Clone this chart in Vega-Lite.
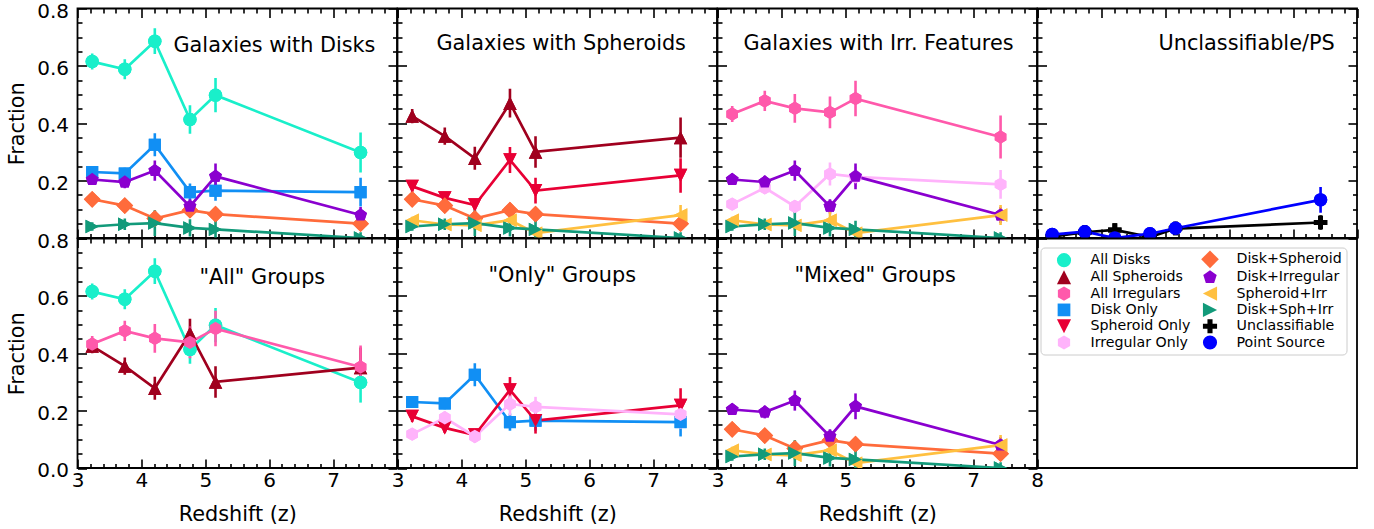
{
  "$schema": "https://vega.github.io/schema/vega-lite/v6.json",
  "padding": {"left": 5.5, "top": -0.5, "right": 5, "bottom": 5},
  "background": "white",
  "datasets": {
    "d": [
      {"s": "All Disks", "z": 3.23, "f": 0.615, "e": 0.028},
      {"s": "All Disks", "z": 3.74, "f": 0.588, "e": 0.035},
      {"s": "All Disks", "z": 4.21, "f": 0.686, "e": 0.045},
      {"s": "All Disks", "z": 4.76, "f": 0.413, "e": 0.05},
      {"s": "All Disks", "z": 5.16, "f": 0.498, "e": 0.06},
      {"s": "All Disks", "z": 7.43, "f": 0.298, "e": 0.07},
      {"s": "All Spheroids", "z": 3.23, "f": 0.425, "e": 0.025},
      {"s": "All Spheroids", "z": 3.74, "f": 0.355, "e": 0.03},
      {"s": "All Spheroids", "z": 4.21, "f": 0.278, "e": 0.04},
      {"s": "All Spheroids", "z": 4.76, "f": 0.47, "e": 0.05},
      {"s": "All Spheroids", "z": 5.16, "f": 0.3, "e": 0.055},
      {"s": "All Spheroids", "z": 7.43, "f": 0.35, "e": 0.07},
      {"s": "All Irregulars", "z": 3.23, "f": 0.432, "e": 0.028},
      {"s": "All Irregulars", "z": 3.74, "f": 0.478, "e": 0.035},
      {"s": "All Irregulars", "z": 4.21, "f": 0.452, "e": 0.05},
      {"s": "All Irregulars", "z": 4.76, "f": 0.438, "e": 0.055},
      {"s": "All Irregulars", "z": 5.16, "f": 0.486, "e": 0.062},
      {"s": "All Irregulars", "z": 7.43, "f": 0.352, "e": 0.075},
      {"s": "Disk Only", "z": 3.23, "f": 0.23, "e": 0.02},
      {"s": "Disk Only", "z": 3.74, "f": 0.225, "e": 0.02},
      {"s": "Disk Only", "z": 4.21, "f": 0.325, "e": 0.04},
      {"s": "Disk Only", "z": 4.76, "f": 0.16, "e": 0.03},
      {"s": "Disk Only", "z": 5.16, "f": 0.165, "e": 0.035},
      {"s": "Disk Only", "z": 7.43, "f": 0.16, "e": 0.05},
      {"s": "Spheroid Only", "z": 3.23, "f": 0.18, "e": 0.02},
      {"s": "Spheroid Only", "z": 3.74, "f": 0.14, "e": 0.018},
      {"s": "Spheroid Only", "z": 4.21, "f": 0.115, "e": 0.02},
      {"s": "Spheroid Only", "z": 4.76, "f": 0.272, "e": 0.045},
      {"s": "Spheroid Only", "z": 5.16, "f": 0.165, "e": 0.045},
      {"s": "Spheroid Only", "z": 7.43, "f": 0.218, "e": 0.06},
      {"s": "Irregular Only", "z": 3.23, "f": 0.118, "e": 0.015},
      {"s": "Irregular Only", "z": 3.74, "f": 0.175, "e": 0.022},
      {"s": "Irregular Only", "z": 4.21, "f": 0.11, "e": 0.02},
      {"s": "Irregular Only", "z": 4.76, "f": 0.223, "e": 0.04},
      {"s": "Irregular Only", "z": 5.16, "f": 0.213, "e": 0.035},
      {"s": "Irregular Only", "z": 7.43, "f": 0.187, "e": 0.05},
      {"s": "Disk+Spheroid", "z": 3.23, "f": 0.135, "e": 0.018},
      {"s": "Disk+Spheroid", "z": 3.74, "f": 0.113, "e": 0.017},
      {"s": "Disk+Spheroid", "z": 4.21, "f": 0.068, "e": 0.015},
      {"s": "Disk+Spheroid", "z": 4.76, "f": 0.097, "e": 0.02},
      {"s": "Disk+Spheroid", "z": 5.16, "f": 0.083, "e": 0.025},
      {"s": "Disk+Spheroid", "z": 7.43, "f": 0.05, "e": 0.022},
      {"s": "Disk+Irregular", "z": 3.23, "f": 0.204, "e": 0.018},
      {"s": "Disk+Irregular", "z": 3.74, "f": 0.195, "e": 0.022},
      {"s": "Disk+Irregular", "z": 4.21, "f": 0.235, "e": 0.035},
      {"s": "Disk+Irregular", "z": 4.76, "f": 0.11, "e": 0.025},
      {"s": "Disk+Irregular", "z": 5.16, "f": 0.215, "e": 0.045},
      {"s": "Disk+Irregular", "z": 7.43, "f": 0.08, "e": 0.028},
      {"s": "Spheroid+Irr", "z": 3.23, "f": 0.062, "e": 0.012},
      {"s": "Spheroid+Irr", "z": 3.74, "f": 0.047, "e": 0.015},
      {"s": "Spheroid+Irr", "z": 4.21, "f": 0.044, "e": 0.015},
      {"s": "Spheroid+Irr", "z": 4.76, "f": 0.062, "e": 0.03},
      {"s": "Spheroid+Irr", "z": 5.16, "f": 0.017, "e": 0.015},
      {"s": "Spheroid+Irr", "z": 7.43, "f": 0.08, "e": 0.035},
      {"s": "Disk+Sph+Irr", "z": 3.23, "f": 0.04, "e": 0.015},
      {"s": "Disk+Sph+Irr", "z": 3.74, "f": 0.048, "e": 0.02},
      {"s": "Disk+Sph+Irr", "z": 4.21, "f": 0.052, "e": 0.045},
      {"s": "Disk+Sph+Irr", "z": 4.76, "f": 0.035, "e": 0.03},
      {"s": "Disk+Sph+Irr", "z": 5.16, "f": 0.03, "e": 0.03},
      {"s": "Disk+Sph+Irr", "z": 7.43, "f": 0.0, "e": 0.02},
      {"s": "Unclassifiable", "z": 3.23, "f": 0.005, "e": 0.005},
      {"s": "Unclassifiable", "z": 3.74, "f": 0.02, "e": 0.008},
      {"s": "Unclassifiable", "z": 4.21, "f": 0.028, "e": 0.012},
      {"s": "Unclassifiable", "z": 4.76, "f": 0.003, "e": 0.006},
      {"s": "Unclassifiable", "z": 5.16, "f": 0.033, "e": 0.012},
      {"s": "Unclassifiable", "z": 7.43, "f": 0.054, "e": 0.025},
      {"s": "Point Source", "z": 3.23, "f": 0.012, "e": 0.006},
      {"s": "Point Source", "z": 3.74, "f": 0.022, "e": 0.01},
      {"s": "Point Source", "z": 4.21, "f": 0.0, "e": 0.005},
      {"s": "Point Source", "z": 4.76, "f": 0.015, "e": 0.008},
      {"s": "Point Source", "z": 5.16, "f": 0.034, "e": 0.012},
      {"s": "Point Source", "z": 7.43, "f": 0.133, "e": 0.045}
    ]
  },
  "concat": [
    {
      "width": 319.5, "height": 229.5,
      "title": {"text": "Galaxies with Disks", "dx": 96, "offset": -56},
      "data": {"name": "d"},
      "transform": [{"filter": {"field": "s", "oneOf": ["All Disks", "Disk Only", "Disk+Irregular", "Disk+Spheroid", "Disk+Sph+Irr"]}}],
      "resolve": {"axis": {"x": "independent", "y": "independent"}},
      "layer": [
        {"mark": {"type": "point", "filled": true, "opacity": 1, "size": 180, "clip": true},
         "encoding": {
           "x": {"field": "z", "type": "quantitative", "scale": {"domain": [3, 8], "nice": false, "zero": false}, "axis": {"orient": "bottom", "values": [3.2,3.4,3.6,3.8,4.2,4.4,4.6,4.8,5.2,5.4,5.6,5.8,6.2,6.4,6.6,6.8,7.2,7.4,7.6,7.8], "tickSize": -4.5, "labels": false, "title": null}},
           "y": {"field": "f", "type": "quantitative", "scale": {"domain": [0, 0.8], "nice": false, "zero": false}, "axis": {"orient": "left", "values": [0.05,0.1,0.15,0.25,0.3,0.35,0.45,0.5,0.55,0.65,0.7,0.75], "tickSize": -4.5, "labels": false, "title": null}},
           "color": {"field": "s", "type": "nominal", "title": null, "scale": {"domain": ["All Disks","All Spheroids","All Irregulars","Disk Only","Spheroid Only","Irregular Only","Disk+Spheroid","Disk+Irregular","Spheroid+Irr","Disk+Sph+Irr","Unclassifiable","Point Source"], "range": ["#19efca","#a0001e","#ff59ab","#118ff4","#e80035","#ffb3fb","#ff6b3b","#8a00cf","#ffc040","#129a7a","#000000","#0000ff"]}},
           "shape": {"field": "s", "type": "nominal", "title": null, "scale": {"domain": ["All Disks","All Spheroids","All Irregulars","Disk Only","Spheroid Only","Irregular Only","Disk+Spheroid","Disk+Irregular","Spheroid+Irr","Disk+Sph+Irr","Unclassifiable","Point Source"], "range": ["circle","M0,-1L1,1L-1,1Z","M0,-1L0.866,-0.5L0.866,0.5L0,1L-0.866,0.5L-0.866,-0.5Z","M-0.9,-0.9L0.9,-0.9L0.9,0.9L-0.9,0.9Z","M0,1L-1,-1L1,-1Z","M0,-1L0.866,-0.5L0.866,0.5L0,1L-0.866,0.5L-0.866,-0.5Z","M0,-1.25L1.25,0L0,1.25L-1.25,0Z","M0,-1L0.951,-0.309L0.588,0.809L-0.588,0.809L-0.951,-0.309Z","M-1,0L1,-1L1,1Z","M1,0L-1,-1L-1,1Z","M-0.36,-1L0.36,-1L0.36,-0.36L1,-0.36L1,0.36L0.36,0.36L0.36,1L-0.36,1L-0.36,0.36L-1,0.36L-1,-0.36L-0.36,-0.36Z","circle"]}}
         }},
        {"mark": {"type": "errorbar", "thickness": 2.6, "clip": true},
         "encoding": {
           "x": {"field": "z", "type": "quantitative", "scale": {"domain": [3, 8], "nice": false, "zero": false}, "axis": null},
           "y": {"field": "f", "type": "quantitative", "scale": {"domain": [0, 0.8], "nice": false, "zero": false}, "axis": null},
           "yError": {"field": "e"},
           "color": {"field": "s", "type": "nominal", "title": null, "scale": {"domain": ["All Disks","All Spheroids","All Irregulars","Disk Only","Spheroid Only","Irregular Only","Disk+Spheroid","Disk+Irregular","Spheroid+Irr","Disk+Sph+Irr","Unclassifiable","Point Source"], "range": ["#19efca","#a0001e","#ff59ab","#118ff4","#e80035","#ffb3fb","#ff6b3b","#8a00cf","#ffc040","#129a7a","#000000","#0000ff"]}}
         }},
        {"mark": {"type": "line", "strokeWidth": 2.7, "clip": true},
         "encoding": {
           "x": {"field": "z", "type": "quantitative", "scale": {"domain": [3, 8], "nice": false, "zero": false}, "axis": {"orient": "bottom", "values": [3,4,5,6,7,8], "tickSize": -9, "labels": false, "title": null}},
           "y": {"field": "f", "type": "quantitative", "scale": {"domain": [0, 0.8], "nice": false, "zero": false}, "axis": {"orient": "left", "values": [0,0.2,0.4,0.6,0.8], "tickSize": -9, "format": ".1f", "labelExpr": "datum.value == 0 ? '' : datum.label", "title": "Fraction"}},
           "color": {"field": "s", "type": "nominal", "title": null, "scale": {"domain": ["All Disks","All Spheroids","All Irregulars","Disk Only","Spheroid Only","Irregular Only","Disk+Spheroid","Disk+Irregular","Spheroid+Irr","Disk+Sph+Irr","Unclassifiable","Point Source"], "range": ["#19efca","#a0001e","#ff59ab","#118ff4","#e80035","#ffb3fb","#ff6b3b","#8a00cf","#ffc040","#129a7a","#000000","#0000ff"]}}
         }},
        {"mark": {"type": "point", "filled": true, "opacity": 1, "size": 180, "clip": true},
         "encoding": {
           "x": {"field": "z", "type": "quantitative", "scale": {"domain": [3, 8], "nice": false, "zero": false}, "axis": null},
           "y": {"field": "f", "type": "quantitative", "scale": {"domain": [0, 0.8], "nice": false, "zero": false}, "axis": null},
           "color": {"field": "s", "type": "nominal", "title": null, "scale": {"domain": ["All Disks","All Spheroids","All Irregulars","Disk Only","Spheroid Only","Irregular Only","Disk+Spheroid","Disk+Irregular","Spheroid+Irr","Disk+Sph+Irr","Unclassifiable","Point Source"], "range": ["#19efca","#a0001e","#ff59ab","#118ff4","#e80035","#ffb3fb","#ff6b3b","#8a00cf","#ffc040","#129a7a","#000000","#0000ff"]}},
           "shape": {"field": "s", "type": "nominal", "title": null, "scale": {"domain": ["All Disks","All Spheroids","All Irregulars","Disk Only","Spheroid Only","Irregular Only","Disk+Spheroid","Disk+Irregular","Spheroid+Irr","Disk+Sph+Irr","Unclassifiable","Point Source"], "range": ["circle","M0,-1L1,1L-1,1Z","M0,-1L0.866,-0.5L0.866,0.5L0,1L-0.866,0.5L-0.866,-0.5Z","M-0.9,-0.9L0.9,-0.9L0.9,0.9L-0.9,0.9Z","M0,1L-1,-1L1,-1Z","M0,-1L0.866,-0.5L0.866,0.5L0,1L-0.866,0.5L-0.866,-0.5Z","M0,-1.25L1.25,0L0,1.25L-1.25,0Z","M0,-1L0.951,-0.309L0.588,0.809L-0.588,0.809L-0.951,-0.309Z","M-1,0L1,-1L1,1Z","M1,0L-1,-1L-1,1Z","M-0.36,-1L0.36,-1L0.36,-0.36L1,-0.36L1,0.36L0.36,0.36L0.36,1L-0.36,1L-0.36,0.36L-1,0.36L-1,-0.36L-0.36,-0.36Z","circle"]}}
         }},
        {"mark": {"type": "point", "opacity": 0},
         "encoding": {
           "x": {"field": "z", "type": "quantitative", "scale": {"domain": [3, 8], "nice": false, "zero": false}, "axis": {"orient": "top", "values": [3,4,5,6,7,8], "tickSize": -9, "labels": false, "title": null}},
           "y": {"field": "f", "type": "quantitative", "scale": {"domain": [0, 0.8], "nice": false, "zero": false}, "axis": {"orient": "right", "values": [0,0.2,0.4,0.6,0.8], "tickSize": -9, "labels": false, "title": null}}
         }},
        {"mark": {"type": "point", "opacity": 0},
         "encoding": {
           "x": {"field": "z", "type": "quantitative", "scale": {"domain": [3, 8], "nice": false, "zero": false}, "axis": {"orient": "top", "values": [3.2,3.4,3.6,3.8,4.2,4.4,4.6,4.8,5.2,5.4,5.6,5.8,6.2,6.4,6.6,6.8,7.2,7.4,7.6,7.8], "tickSize": -4.5, "labels": false, "title": null}},
           "y": {"field": "f", "type": "quantitative", "scale": {"domain": [0, 0.8], "nice": false, "zero": false}, "axis": {"orient": "right", "values": [0.05,0.1,0.15,0.25,0.3,0.35,0.45,0.5,0.55,0.65,0.7,0.75], "tickSize": -4.5, "labels": false, "title": null}}
         }}
      ]
    },
    {
      "width": 319.5, "height": 229.5,
      "title": {"text": "Galaxies with Spheroids", "dx": 39, "offset": -47},
      "data": {"name": "d"},
      "transform": [{"filter": {"field": "s", "oneOf": ["All Spheroids", "Spheroid Only", "Disk+Spheroid", "Spheroid+Irr", "Disk+Sph+Irr"]}}],
      "resolve": {"axis": {"x": "independent", "y": "independent"}},
      "layer": [
        {"mark": {"type": "point", "filled": true, "opacity": 1, "size": 180, "clip": true},
         "encoding": {
           "x": {"field": "z", "type": "quantitative", "scale": {"domain": [3, 8], "nice": false, "zero": false}, "axis": {"orient": "bottom", "values": [3.2,3.4,3.6,3.8,4.2,4.4,4.6,4.8,5.2,5.4,5.6,5.8,6.2,6.4,6.6,6.8,7.2,7.4,7.6,7.8], "tickSize": -4.5, "labels": false, "title": null}},
           "y": {"field": "f", "type": "quantitative", "scale": {"domain": [0, 0.8], "nice": false, "zero": false}, "axis": {"orient": "left", "values": [0.05,0.1,0.15,0.25,0.3,0.35,0.45,0.5,0.55,0.65,0.7,0.75], "tickSize": -4.5, "labels": false, "title": null}},
           "color": {"field": "s", "type": "nominal", "title": null, "scale": {"domain": ["All Disks","All Spheroids","All Irregulars","Disk Only","Spheroid Only","Irregular Only","Disk+Spheroid","Disk+Irregular","Spheroid+Irr","Disk+Sph+Irr","Unclassifiable","Point Source"], "range": ["#19efca","#a0001e","#ff59ab","#118ff4","#e80035","#ffb3fb","#ff6b3b","#8a00cf","#ffc040","#129a7a","#000000","#0000ff"]}},
           "shape": {"field": "s", "type": "nominal", "title": null, "scale": {"domain": ["All Disks","All Spheroids","All Irregulars","Disk Only","Spheroid Only","Irregular Only","Disk+Spheroid","Disk+Irregular","Spheroid+Irr","Disk+Sph+Irr","Unclassifiable","Point Source"], "range": ["circle","M0,-1L1,1L-1,1Z","M0,-1L0.866,-0.5L0.866,0.5L0,1L-0.866,0.5L-0.866,-0.5Z","M-0.9,-0.9L0.9,-0.9L0.9,0.9L-0.9,0.9Z","M0,1L-1,-1L1,-1Z","M0,-1L0.866,-0.5L0.866,0.5L0,1L-0.866,0.5L-0.866,-0.5Z","M0,-1.25L1.25,0L0,1.25L-1.25,0Z","M0,-1L0.951,-0.309L0.588,0.809L-0.588,0.809L-0.951,-0.309Z","M-1,0L1,-1L1,1Z","M1,0L-1,-1L-1,1Z","M-0.36,-1L0.36,-1L0.36,-0.36L1,-0.36L1,0.36L0.36,0.36L0.36,1L-0.36,1L-0.36,0.36L-1,0.36L-1,-0.36L-0.36,-0.36Z","circle"]}}
         }},
        {"mark": {"type": "errorbar", "thickness": 2.6, "clip": true},
         "encoding": {
           "x": {"field": "z", "type": "quantitative", "scale": {"domain": [3, 8], "nice": false, "zero": false}, "axis": null},
           "y": {"field": "f", "type": "quantitative", "scale": {"domain": [0, 0.8], "nice": false, "zero": false}, "axis": null},
           "yError": {"field": "e"},
           "color": {"field": "s", "type": "nominal", "title": null, "scale": {"domain": ["All Disks","All Spheroids","All Irregulars","Disk Only","Spheroid Only","Irregular Only","Disk+Spheroid","Disk+Irregular","Spheroid+Irr","Disk+Sph+Irr","Unclassifiable","Point Source"], "range": ["#19efca","#a0001e","#ff59ab","#118ff4","#e80035","#ffb3fb","#ff6b3b","#8a00cf","#ffc040","#129a7a","#000000","#0000ff"]}}
         }},
        {"mark": {"type": "line", "strokeWidth": 2.7, "clip": true},
         "encoding": {
           "x": {"field": "z", "type": "quantitative", "scale": {"domain": [3, 8], "nice": false, "zero": false}, "axis": {"orient": "bottom", "values": [3,4,5,6,7,8], "tickSize": -9, "labels": false, "title": null}},
           "y": {"field": "f", "type": "quantitative", "scale": {"domain": [0, 0.8], "nice": false, "zero": false}, "axis": {"orient": "left", "values": [0,0.2,0.4,0.6,0.8], "tickSize": -9, "labels": false, "title": null}},
           "color": {"field": "s", "type": "nominal", "title": null, "scale": {"domain": ["All Disks","All Spheroids","All Irregulars","Disk Only","Spheroid Only","Irregular Only","Disk+Spheroid","Disk+Irregular","Spheroid+Irr","Disk+Sph+Irr","Unclassifiable","Point Source"], "range": ["#19efca","#a0001e","#ff59ab","#118ff4","#e80035","#ffb3fb","#ff6b3b","#8a00cf","#ffc040","#129a7a","#000000","#0000ff"]}}
         }},
        {"mark": {"type": "point", "filled": true, "opacity": 1, "size": 180, "clip": true},
         "encoding": {
           "x": {"field": "z", "type": "quantitative", "scale": {"domain": [3, 8], "nice": false, "zero": false}, "axis": null},
           "y": {"field": "f", "type": "quantitative", "scale": {"domain": [0, 0.8], "nice": false, "zero": false}, "axis": null},
           "color": {"field": "s", "type": "nominal", "title": null, "scale": {"domain": ["All Disks","All Spheroids","All Irregulars","Disk Only","Spheroid Only","Irregular Only","Disk+Spheroid","Disk+Irregular","Spheroid+Irr","Disk+Sph+Irr","Unclassifiable","Point Source"], "range": ["#19efca","#a0001e","#ff59ab","#118ff4","#e80035","#ffb3fb","#ff6b3b","#8a00cf","#ffc040","#129a7a","#000000","#0000ff"]}},
           "shape": {"field": "s", "type": "nominal", "title": null, "scale": {"domain": ["All Disks","All Spheroids","All Irregulars","Disk Only","Spheroid Only","Irregular Only","Disk+Spheroid","Disk+Irregular","Spheroid+Irr","Disk+Sph+Irr","Unclassifiable","Point Source"], "range": ["circle","M0,-1L1,1L-1,1Z","M0,-1L0.866,-0.5L0.866,0.5L0,1L-0.866,0.5L-0.866,-0.5Z","M-0.9,-0.9L0.9,-0.9L0.9,0.9L-0.9,0.9Z","M0,1L-1,-1L1,-1Z","M0,-1L0.866,-0.5L0.866,0.5L0,1L-0.866,0.5L-0.866,-0.5Z","M0,-1.25L1.25,0L0,1.25L-1.25,0Z","M0,-1L0.951,-0.309L0.588,0.809L-0.588,0.809L-0.951,-0.309Z","M-1,0L1,-1L1,1Z","M1,0L-1,-1L-1,1Z","M-0.36,-1L0.36,-1L0.36,-0.36L1,-0.36L1,0.36L0.36,0.36L0.36,1L-0.36,1L-0.36,0.36L-1,0.36L-1,-0.36L-0.36,-0.36Z","circle"]}}
         }},
        {"mark": {"type": "point", "opacity": 0},
         "encoding": {
           "x": {"field": "z", "type": "quantitative", "scale": {"domain": [3, 8], "nice": false, "zero": false}, "axis": {"orient": "top", "values": [3,4,5,6,7,8], "tickSize": -9, "labels": false, "title": null}},
           "y": {"field": "f", "type": "quantitative", "scale": {"domain": [0, 0.8], "nice": false, "zero": false}, "axis": {"orient": "right", "values": [0,0.2,0.4,0.6,0.8], "tickSize": -9, "labels": false, "title": null}}
         }},
        {"mark": {"type": "point", "opacity": 0},
         "encoding": {
           "x": {"field": "z", "type": "quantitative", "scale": {"domain": [3, 8], "nice": false, "zero": false}, "axis": {"orient": "top", "values": [3.2,3.4,3.6,3.8,4.2,4.4,4.6,4.8,5.2,5.4,5.6,5.8,6.2,6.4,6.6,6.8,7.2,7.4,7.6,7.8], "tickSize": -4.5, "labels": false, "title": null}},
           "y": {"field": "f", "type": "quantitative", "scale": {"domain": [0, 0.8], "nice": false, "zero": false}, "axis": {"orient": "right", "values": [0.05,0.1,0.15,0.25,0.3,0.35,0.45,0.5,0.55,0.65,0.7,0.75], "tickSize": -4.5, "labels": false, "title": null}}
         }}
      ]
    },
    {
      "width": 319.5, "height": 229.5,
      "title": {"text": "Galaxies with Irr. Features", "dx": 26, "offset": -47},
      "data": {"name": "d"},
      "transform": [{"filter": {"field": "s", "oneOf": ["All Irregulars", "Irregular Only", "Disk+Irregular", "Spheroid+Irr", "Disk+Sph+Irr"]}}],
      "resolve": {"axis": {"x": "independent", "y": "independent"}},
      "layer": [
        {"mark": {"type": "point", "filled": true, "opacity": 1, "size": 180, "clip": true},
         "encoding": {
           "x": {"field": "z", "type": "quantitative", "scale": {"domain": [3, 8], "nice": false, "zero": false}, "axis": {"orient": "bottom", "values": [3.2,3.4,3.6,3.8,4.2,4.4,4.6,4.8,5.2,5.4,5.6,5.8,6.2,6.4,6.6,6.8,7.2,7.4,7.6,7.8], "tickSize": -4.5, "labels": false, "title": null}},
           "y": {"field": "f", "type": "quantitative", "scale": {"domain": [0, 0.8], "nice": false, "zero": false}, "axis": {"orient": "left", "values": [0.05,0.1,0.15,0.25,0.3,0.35,0.45,0.5,0.55,0.65,0.7,0.75], "tickSize": -4.5, "labels": false, "title": null}},
           "color": {"field": "s", "type": "nominal", "title": null, "scale": {"domain": ["All Disks","All Spheroids","All Irregulars","Disk Only","Spheroid Only","Irregular Only","Disk+Spheroid","Disk+Irregular","Spheroid+Irr","Disk+Sph+Irr","Unclassifiable","Point Source"], "range": ["#19efca","#a0001e","#ff59ab","#118ff4","#e80035","#ffb3fb","#ff6b3b","#8a00cf","#ffc040","#129a7a","#000000","#0000ff"]}},
           "shape": {"field": "s", "type": "nominal", "title": null, "scale": {"domain": ["All Disks","All Spheroids","All Irregulars","Disk Only","Spheroid Only","Irregular Only","Disk+Spheroid","Disk+Irregular","Spheroid+Irr","Disk+Sph+Irr","Unclassifiable","Point Source"], "range": ["circle","M0,-1L1,1L-1,1Z","M0,-1L0.866,-0.5L0.866,0.5L0,1L-0.866,0.5L-0.866,-0.5Z","M-0.9,-0.9L0.9,-0.9L0.9,0.9L-0.9,0.9Z","M0,1L-1,-1L1,-1Z","M0,-1L0.866,-0.5L0.866,0.5L0,1L-0.866,0.5L-0.866,-0.5Z","M0,-1.25L1.25,0L0,1.25L-1.25,0Z","M0,-1L0.951,-0.309L0.588,0.809L-0.588,0.809L-0.951,-0.309Z","M-1,0L1,-1L1,1Z","M1,0L-1,-1L-1,1Z","M-0.36,-1L0.36,-1L0.36,-0.36L1,-0.36L1,0.36L0.36,0.36L0.36,1L-0.36,1L-0.36,0.36L-1,0.36L-1,-0.36L-0.36,-0.36Z","circle"]}}
         }},
        {"mark": {"type": "errorbar", "thickness": 2.6, "clip": true},
         "encoding": {
           "x": {"field": "z", "type": "quantitative", "scale": {"domain": [3, 8], "nice": false, "zero": false}, "axis": null},
           "y": {"field": "f", "type": "quantitative", "scale": {"domain": [0, 0.8], "nice": false, "zero": false}, "axis": null},
           "yError": {"field": "e"},
           "color": {"field": "s", "type": "nominal", "title": null, "scale": {"domain": ["All Disks","All Spheroids","All Irregulars","Disk Only","Spheroid Only","Irregular Only","Disk+Spheroid","Disk+Irregular","Spheroid+Irr","Disk+Sph+Irr","Unclassifiable","Point Source"], "range": ["#19efca","#a0001e","#ff59ab","#118ff4","#e80035","#ffb3fb","#ff6b3b","#8a00cf","#ffc040","#129a7a","#000000","#0000ff"]}}
         }},
        {"mark": {"type": "line", "strokeWidth": 2.7, "clip": true},
         "encoding": {
           "x": {"field": "z", "type": "quantitative", "scale": {"domain": [3, 8], "nice": false, "zero": false}, "axis": {"orient": "bottom", "values": [3,4,5,6,7,8], "tickSize": -9, "labels": false, "title": null}},
           "y": {"field": "f", "type": "quantitative", "scale": {"domain": [0, 0.8], "nice": false, "zero": false}, "axis": {"orient": "left", "values": [0,0.2,0.4,0.6,0.8], "tickSize": -9, "labels": false, "title": null}},
           "color": {"field": "s", "type": "nominal", "title": null, "scale": {"domain": ["All Disks","All Spheroids","All Irregulars","Disk Only","Spheroid Only","Irregular Only","Disk+Spheroid","Disk+Irregular","Spheroid+Irr","Disk+Sph+Irr","Unclassifiable","Point Source"], "range": ["#19efca","#a0001e","#ff59ab","#118ff4","#e80035","#ffb3fb","#ff6b3b","#8a00cf","#ffc040","#129a7a","#000000","#0000ff"]}}
         }},
        {"mark": {"type": "point", "filled": true, "opacity": 1, "size": 180, "clip": true},
         "encoding": {
           "x": {"field": "z", "type": "quantitative", "scale": {"domain": [3, 8], "nice": false, "zero": false}, "axis": null},
           "y": {"field": "f", "type": "quantitative", "scale": {"domain": [0, 0.8], "nice": false, "zero": false}, "axis": null},
           "color": {"field": "s", "type": "nominal", "title": null, "scale": {"domain": ["All Disks","All Spheroids","All Irregulars","Disk Only","Spheroid Only","Irregular Only","Disk+Spheroid","Disk+Irregular","Spheroid+Irr","Disk+Sph+Irr","Unclassifiable","Point Source"], "range": ["#19efca","#a0001e","#ff59ab","#118ff4","#e80035","#ffb3fb","#ff6b3b","#8a00cf","#ffc040","#129a7a","#000000","#0000ff"]}},
           "shape": {"field": "s", "type": "nominal", "title": null, "scale": {"domain": ["All Disks","All Spheroids","All Irregulars","Disk Only","Spheroid Only","Irregular Only","Disk+Spheroid","Disk+Irregular","Spheroid+Irr","Disk+Sph+Irr","Unclassifiable","Point Source"], "range": ["circle","M0,-1L1,1L-1,1Z","M0,-1L0.866,-0.5L0.866,0.5L0,1L-0.866,0.5L-0.866,-0.5Z","M-0.9,-0.9L0.9,-0.9L0.9,0.9L-0.9,0.9Z","M0,1L-1,-1L1,-1Z","M0,-1L0.866,-0.5L0.866,0.5L0,1L-0.866,0.5L-0.866,-0.5Z","M0,-1.25L1.25,0L0,1.25L-1.25,0Z","M0,-1L0.951,-0.309L0.588,0.809L-0.588,0.809L-0.951,-0.309Z","M-1,0L1,-1L1,1Z","M1,0L-1,-1L-1,1Z","M-0.36,-1L0.36,-1L0.36,-0.36L1,-0.36L1,0.36L0.36,0.36L0.36,1L-0.36,1L-0.36,0.36L-1,0.36L-1,-0.36L-0.36,-0.36Z","circle"]}}
         }},
        {"mark": {"type": "point", "opacity": 0},
         "encoding": {
           "x": {"field": "z", "type": "quantitative", "scale": {"domain": [3, 8], "nice": false, "zero": false}, "axis": {"orient": "top", "values": [3,4,5,6,7,8], "tickSize": -9, "labels": false, "title": null}},
           "y": {"field": "f", "type": "quantitative", "scale": {"domain": [0, 0.8], "nice": false, "zero": false}, "axis": {"orient": "right", "values": [0,0.2,0.4,0.6,0.8], "tickSize": -9, "labels": false, "title": null}}
         }},
        {"mark": {"type": "point", "opacity": 0},
         "encoding": {
           "x": {"field": "z", "type": "quantitative", "scale": {"domain": [3, 8], "nice": false, "zero": false}, "axis": {"orient": "top", "values": [3.2,3.4,3.6,3.8,4.2,4.4,4.6,4.8,5.2,5.4,5.6,5.8,6.2,6.4,6.6,6.8,7.2,7.4,7.6,7.8], "tickSize": -4.5, "labels": false, "title": null}},
           "y": {"field": "f", "type": "quantitative", "scale": {"domain": [0, 0.8], "nice": false, "zero": false}, "axis": {"orient": "right", "values": [0.05,0.1,0.15,0.25,0.3,0.35,0.45,0.5,0.55,0.65,0.7,0.75], "tickSize": -4.5, "labels": false, "title": null}}
         }}
      ]
    },
    {
      "width": 319.5, "height": 229.5,
      "title": {"text": "Unclassifiable/PS", "dx": 121, "offset": -47},
      "data": {"name": "d"},
      "transform": [{"filter": {"field": "s", "oneOf": ["Unclassifiable", "Point Source"]}}],
      "resolve": {"axis": {"x": "independent", "y": "independent"}},
      "layer": [
        {"mark": {"type": "point", "filled": true, "opacity": 1, "size": 180, "clip": true},
         "encoding": {
           "x": {"field": "z", "type": "quantitative", "scale": {"domain": [3, 8], "nice": false, "zero": false}, "axis": {"orient": "bottom", "values": [3.2,3.4,3.6,3.8,4.2,4.4,4.6,4.8,5.2,5.4,5.6,5.8,6.2,6.4,6.6,6.8,7.2,7.4,7.6,7.8], "tickSize": -4.5, "labels": false, "title": null}},
           "y": {"field": "f", "type": "quantitative", "scale": {"domain": [0, 0.8], "nice": false, "zero": false}, "axis": {"orient": "left", "values": [0.05,0.1,0.15,0.25,0.3,0.35,0.45,0.5,0.55,0.65,0.7,0.75], "tickSize": -4.5, "labels": false, "title": null}},
           "color": {"field": "s", "type": "nominal", "title": null, "scale": {"domain": ["All Disks","All Spheroids","All Irregulars","Disk Only","Spheroid Only","Irregular Only","Disk+Spheroid","Disk+Irregular","Spheroid+Irr","Disk+Sph+Irr","Unclassifiable","Point Source"], "range": ["#19efca","#a0001e","#ff59ab","#118ff4","#e80035","#ffb3fb","#ff6b3b","#8a00cf","#ffc040","#129a7a","#000000","#0000ff"]}},
           "shape": {"field": "s", "type": "nominal", "title": null, "scale": {"domain": ["All Disks","All Spheroids","All Irregulars","Disk Only","Spheroid Only","Irregular Only","Disk+Spheroid","Disk+Irregular","Spheroid+Irr","Disk+Sph+Irr","Unclassifiable","Point Source"], "range": ["circle","M0,-1L1,1L-1,1Z","M0,-1L0.866,-0.5L0.866,0.5L0,1L-0.866,0.5L-0.866,-0.5Z","M-0.9,-0.9L0.9,-0.9L0.9,0.9L-0.9,0.9Z","M0,1L-1,-1L1,-1Z","M0,-1L0.866,-0.5L0.866,0.5L0,1L-0.866,0.5L-0.866,-0.5Z","M0,-1.25L1.25,0L0,1.25L-1.25,0Z","M0,-1L0.951,-0.309L0.588,0.809L-0.588,0.809L-0.951,-0.309Z","M-1,0L1,-1L1,1Z","M1,0L-1,-1L-1,1Z","M-0.36,-1L0.36,-1L0.36,-0.36L1,-0.36L1,0.36L0.36,0.36L0.36,1L-0.36,1L-0.36,0.36L-1,0.36L-1,-0.36L-0.36,-0.36Z","circle"]}}
         }},
        {"mark": {"type": "errorbar", "thickness": 2.6, "clip": true},
         "encoding": {
           "x": {"field": "z", "type": "quantitative", "scale": {"domain": [3, 8], "nice": false, "zero": false}, "axis": null},
           "y": {"field": "f", "type": "quantitative", "scale": {"domain": [0, 0.8], "nice": false, "zero": false}, "axis": null},
           "yError": {"field": "e"},
           "color": {"field": "s", "type": "nominal", "title": null, "scale": {"domain": ["All Disks","All Spheroids","All Irregulars","Disk Only","Spheroid Only","Irregular Only","Disk+Spheroid","Disk+Irregular","Spheroid+Irr","Disk+Sph+Irr","Unclassifiable","Point Source"], "range": ["#19efca","#a0001e","#ff59ab","#118ff4","#e80035","#ffb3fb","#ff6b3b","#8a00cf","#ffc040","#129a7a","#000000","#0000ff"]}}
         }},
        {"mark": {"type": "line", "strokeWidth": 2.7, "clip": true},
         "encoding": {
           "x": {"field": "z", "type": "quantitative", "scale": {"domain": [3, 8], "nice": false, "zero": false}, "axis": {"orient": "bottom", "values": [3,4,5,6,7,8], "tickSize": -9, "labels": false, "title": null}},
           "y": {"field": "f", "type": "quantitative", "scale": {"domain": [0, 0.8], "nice": false, "zero": false}, "axis": {"orient": "left", "values": [0,0.2,0.4,0.6,0.8], "tickSize": -9, "labels": false, "title": null}},
           "color": {"field": "s", "type": "nominal", "title": null, "scale": {"domain": ["All Disks","All Spheroids","All Irregulars","Disk Only","Spheroid Only","Irregular Only","Disk+Spheroid","Disk+Irregular","Spheroid+Irr","Disk+Sph+Irr","Unclassifiable","Point Source"], "range": ["#19efca","#a0001e","#ff59ab","#118ff4","#e80035","#ffb3fb","#ff6b3b","#8a00cf","#ffc040","#129a7a","#000000","#0000ff"]}}
         }},
        {"mark": {"type": "point", "filled": true, "opacity": 1, "size": 180, "clip": true},
         "encoding": {
           "x": {"field": "z", "type": "quantitative", "scale": {"domain": [3, 8], "nice": false, "zero": false}, "axis": null},
           "y": {"field": "f", "type": "quantitative", "scale": {"domain": [0, 0.8], "nice": false, "zero": false}, "axis": null},
           "color": {"field": "s", "type": "nominal", "title": null, "scale": {"domain": ["All Disks","All Spheroids","All Irregulars","Disk Only","Spheroid Only","Irregular Only","Disk+Spheroid","Disk+Irregular","Spheroid+Irr","Disk+Sph+Irr","Unclassifiable","Point Source"], "range": ["#19efca","#a0001e","#ff59ab","#118ff4","#e80035","#ffb3fb","#ff6b3b","#8a00cf","#ffc040","#129a7a","#000000","#0000ff"]}},
           "shape": {"field": "s", "type": "nominal", "title": null, "scale": {"domain": ["All Disks","All Spheroids","All Irregulars","Disk Only","Spheroid Only","Irregular Only","Disk+Spheroid","Disk+Irregular","Spheroid+Irr","Disk+Sph+Irr","Unclassifiable","Point Source"], "range": ["circle","M0,-1L1,1L-1,1Z","M0,-1L0.866,-0.5L0.866,0.5L0,1L-0.866,0.5L-0.866,-0.5Z","M-0.9,-0.9L0.9,-0.9L0.9,0.9L-0.9,0.9Z","M0,1L-1,-1L1,-1Z","M0,-1L0.866,-0.5L0.866,0.5L0,1L-0.866,0.5L-0.866,-0.5Z","M0,-1.25L1.25,0L0,1.25L-1.25,0Z","M0,-1L0.951,-0.309L0.588,0.809L-0.588,0.809L-0.951,-0.309Z","M-1,0L1,-1L1,1Z","M1,0L-1,-1L-1,1Z","M-0.36,-1L0.36,-1L0.36,-0.36L1,-0.36L1,0.36L0.36,0.36L0.36,1L-0.36,1L-0.36,0.36L-1,0.36L-1,-0.36L-0.36,-0.36Z","circle"]}}
         }},
        {"mark": {"type": "point", "opacity": 0},
         "encoding": {
           "x": {"field": "z", "type": "quantitative", "scale": {"domain": [3, 8], "nice": false, "zero": false}, "axis": {"orient": "top", "values": [3,4,5,6,7,8], "tickSize": -9, "labels": false, "title": null}},
           "y": {"field": "f", "type": "quantitative", "scale": {"domain": [0, 0.8], "nice": false, "zero": false}, "axis": {"orient": "right", "values": [0,0.2,0.4,0.6,0.8], "tickSize": -9, "labels": false, "title": null}}
         }},
        {"mark": {"type": "point", "opacity": 0},
         "encoding": {
           "x": {"field": "z", "type": "quantitative", "scale": {"domain": [3, 8], "nice": false, "zero": false}, "axis": {"orient": "top", "values": [3.2,3.4,3.6,3.8,4.2,4.4,4.6,4.8,5.2,5.4,5.6,5.8,6.2,6.4,6.6,6.8,7.2,7.4,7.6,7.8], "tickSize": -4.5, "labels": false, "title": null}},
           "y": {"field": "f", "type": "quantitative", "scale": {"domain": [0, 0.8], "nice": false, "zero": false}, "axis": {"orient": "right", "values": [0.05,0.1,0.15,0.25,0.3,0.35,0.45,0.5,0.55,0.65,0.7,0.75], "tickSize": -4.5, "labels": false, "title": null}}
         }}
      ]
    },
    {
      "width": 319.5, "height": 229.5,
      "title": {"text": "\"All\" Groups", "dx": 122, "offset": -58},
      "data": {"name": "d"},
      "transform": [{"filter": {"field": "s", "oneOf": ["All Disks", "All Spheroids", "All Irregulars"]}}],
      "resolve": {"axis": {"x": "independent", "y": "independent"}},
      "layer": [
        {"mark": {"type": "point", "filled": true, "opacity": 1, "size": 180, "clip": true},
         "encoding": {
           "x": {"field": "z", "type": "quantitative", "scale": {"domain": [3, 8], "nice": false, "zero": false}, "axis": {"orient": "bottom", "values": [3.2,3.4,3.6,3.8,4.2,4.4,4.6,4.8,5.2,5.4,5.6,5.8,6.2,6.4,6.6,6.8,7.2,7.4,7.6,7.8], "tickSize": -4.5, "labels": false, "title": null}},
           "y": {"field": "f", "type": "quantitative", "scale": {"domain": [0, 0.8], "nice": false, "zero": false}, "axis": {"orient": "left", "values": [0.05,0.1,0.15,0.25,0.3,0.35,0.45,0.5,0.55,0.65,0.7,0.75], "tickSize": -4.5, "labels": false, "title": null}},
           "color": {"field": "s", "type": "nominal", "title": null, "scale": {"domain": ["All Disks","All Spheroids","All Irregulars","Disk Only","Spheroid Only","Irregular Only","Disk+Spheroid","Disk+Irregular","Spheroid+Irr","Disk+Sph+Irr","Unclassifiable","Point Source"], "range": ["#19efca","#a0001e","#ff59ab","#118ff4","#e80035","#ffb3fb","#ff6b3b","#8a00cf","#ffc040","#129a7a","#000000","#0000ff"]}},
           "shape": {"field": "s", "type": "nominal", "title": null, "scale": {"domain": ["All Disks","All Spheroids","All Irregulars","Disk Only","Spheroid Only","Irregular Only","Disk+Spheroid","Disk+Irregular","Spheroid+Irr","Disk+Sph+Irr","Unclassifiable","Point Source"], "range": ["circle","M0,-1L1,1L-1,1Z","M0,-1L0.866,-0.5L0.866,0.5L0,1L-0.866,0.5L-0.866,-0.5Z","M-0.9,-0.9L0.9,-0.9L0.9,0.9L-0.9,0.9Z","M0,1L-1,-1L1,-1Z","M0,-1L0.866,-0.5L0.866,0.5L0,1L-0.866,0.5L-0.866,-0.5Z","M0,-1.25L1.25,0L0,1.25L-1.25,0Z","M0,-1L0.951,-0.309L0.588,0.809L-0.588,0.809L-0.951,-0.309Z","M-1,0L1,-1L1,1Z","M1,0L-1,-1L-1,1Z","M-0.36,-1L0.36,-1L0.36,-0.36L1,-0.36L1,0.36L0.36,0.36L0.36,1L-0.36,1L-0.36,0.36L-1,0.36L-1,-0.36L-0.36,-0.36Z","circle"]}}
         }},
        {"mark": {"type": "errorbar", "thickness": 2.6, "clip": true},
         "encoding": {
           "x": {"field": "z", "type": "quantitative", "scale": {"domain": [3, 8], "nice": false, "zero": false}, "axis": null},
           "y": {"field": "f", "type": "quantitative", "scale": {"domain": [0, 0.8], "nice": false, "zero": false}, "axis": null},
           "yError": {"field": "e"},
           "color": {"field": "s", "type": "nominal", "title": null, "scale": {"domain": ["All Disks","All Spheroids","All Irregulars","Disk Only","Spheroid Only","Irregular Only","Disk+Spheroid","Disk+Irregular","Spheroid+Irr","Disk+Sph+Irr","Unclassifiable","Point Source"], "range": ["#19efca","#a0001e","#ff59ab","#118ff4","#e80035","#ffb3fb","#ff6b3b","#8a00cf","#ffc040","#129a7a","#000000","#0000ff"]}}
         }},
        {"mark": {"type": "line", "strokeWidth": 2.7, "clip": true},
         "encoding": {
           "x": {"field": "z", "type": "quantitative", "scale": {"domain": [3, 8], "nice": false, "zero": false}, "axis": {"orient": "bottom", "values": [3,4,5,6,7,8], "tickSize": -9, "labelPadding": 11, "titlePadding": 14, "labelExpr": "datum.value == 8 ? '' : datum.label", "title": "Redshift (z)"}},
           "y": {"field": "f", "type": "quantitative", "scale": {"domain": [0, 0.8], "nice": false, "zero": false}, "axis": {"orient": "left", "values": [0,0.2,0.4,0.6,0.8], "tickSize": -9, "format": ".1f", "title": "Fraction"}},
           "color": {"field": "s", "type": "nominal", "title": null, "scale": {"domain": ["All Disks","All Spheroids","All Irregulars","Disk Only","Spheroid Only","Irregular Only","Disk+Spheroid","Disk+Irregular","Spheroid+Irr","Disk+Sph+Irr","Unclassifiable","Point Source"], "range": ["#19efca","#a0001e","#ff59ab","#118ff4","#e80035","#ffb3fb","#ff6b3b","#8a00cf","#ffc040","#129a7a","#000000","#0000ff"]}}
         }},
        {"mark": {"type": "point", "filled": true, "opacity": 1, "size": 180, "clip": true},
         "encoding": {
           "x": {"field": "z", "type": "quantitative", "scale": {"domain": [3, 8], "nice": false, "zero": false}, "axis": null},
           "y": {"field": "f", "type": "quantitative", "scale": {"domain": [0, 0.8], "nice": false, "zero": false}, "axis": null},
           "color": {"field": "s", "type": "nominal", "title": null, "scale": {"domain": ["All Disks","All Spheroids","All Irregulars","Disk Only","Spheroid Only","Irregular Only","Disk+Spheroid","Disk+Irregular","Spheroid+Irr","Disk+Sph+Irr","Unclassifiable","Point Source"], "range": ["#19efca","#a0001e","#ff59ab","#118ff4","#e80035","#ffb3fb","#ff6b3b","#8a00cf","#ffc040","#129a7a","#000000","#0000ff"]}},
           "shape": {"field": "s", "type": "nominal", "title": null, "scale": {"domain": ["All Disks","All Spheroids","All Irregulars","Disk Only","Spheroid Only","Irregular Only","Disk+Spheroid","Disk+Irregular","Spheroid+Irr","Disk+Sph+Irr","Unclassifiable","Point Source"], "range": ["circle","M0,-1L1,1L-1,1Z","M0,-1L0.866,-0.5L0.866,0.5L0,1L-0.866,0.5L-0.866,-0.5Z","M-0.9,-0.9L0.9,-0.9L0.9,0.9L-0.9,0.9Z","M0,1L-1,-1L1,-1Z","M0,-1L0.866,-0.5L0.866,0.5L0,1L-0.866,0.5L-0.866,-0.5Z","M0,-1.25L1.25,0L0,1.25L-1.25,0Z","M0,-1L0.951,-0.309L0.588,0.809L-0.588,0.809L-0.951,-0.309Z","M-1,0L1,-1L1,1Z","M1,0L-1,-1L-1,1Z","M-0.36,-1L0.36,-1L0.36,-0.36L1,-0.36L1,0.36L0.36,0.36L0.36,1L-0.36,1L-0.36,0.36L-1,0.36L-1,-0.36L-0.36,-0.36Z","circle"]}}
         }},
        {"mark": {"type": "point", "opacity": 0},
         "encoding": {
           "x": {"field": "z", "type": "quantitative", "scale": {"domain": [3, 8], "nice": false, "zero": false}, "axis": {"orient": "top", "values": [3,4,5,6,7,8], "tickSize": -9, "labels": false, "title": null}},
           "y": {"field": "f", "type": "quantitative", "scale": {"domain": [0, 0.8], "nice": false, "zero": false}, "axis": {"orient": "right", "values": [0,0.2,0.4,0.6,0.8], "tickSize": -9, "labels": false, "title": null}}
         }},
        {"mark": {"type": "point", "opacity": 0},
         "encoding": {
           "x": {"field": "z", "type": "quantitative", "scale": {"domain": [3, 8], "nice": false, "zero": false}, "axis": {"orient": "top", "values": [3.2,3.4,3.6,3.8,4.2,4.4,4.6,4.8,5.2,5.4,5.6,5.8,6.2,6.4,6.6,6.8,7.2,7.4,7.6,7.8], "tickSize": -4.5, "labels": false, "title": null}},
           "y": {"field": "f", "type": "quantitative", "scale": {"domain": [0, 0.8], "nice": false, "zero": false}, "axis": {"orient": "right", "values": [0.05,0.1,0.15,0.25,0.3,0.35,0.45,0.5,0.55,0.65,0.7,0.75], "tickSize": -4.5, "labels": false, "title": null}}
         }}
      ]
    },
    {
      "width": 319.5, "height": 229.5,
      "title": {"text": "\"Only\" Groups", "dx": 91, "offset": -49},
      "data": {"name": "d"},
      "transform": [{"filter": {"field": "s", "oneOf": ["Disk Only", "Spheroid Only", "Irregular Only"]}}],
      "resolve": {"axis": {"x": "independent", "y": "independent"}},
      "layer": [
        {"mark": {"type": "point", "filled": true, "opacity": 1, "size": 180, "clip": true},
         "encoding": {
           "x": {"field": "z", "type": "quantitative", "scale": {"domain": [3, 8], "nice": false, "zero": false}, "axis": {"orient": "bottom", "values": [3.2,3.4,3.6,3.8,4.2,4.4,4.6,4.8,5.2,5.4,5.6,5.8,6.2,6.4,6.6,6.8,7.2,7.4,7.6,7.8], "tickSize": -4.5, "labels": false, "title": null}},
           "y": {"field": "f", "type": "quantitative", "scale": {"domain": [0, 0.8], "nice": false, "zero": false}, "axis": {"orient": "left", "values": [0.05,0.1,0.15,0.25,0.3,0.35,0.45,0.5,0.55,0.65,0.7,0.75], "tickSize": -4.5, "labels": false, "title": null}},
           "color": {"field": "s", "type": "nominal", "title": null, "scale": {"domain": ["All Disks","All Spheroids","All Irregulars","Disk Only","Spheroid Only","Irregular Only","Disk+Spheroid","Disk+Irregular","Spheroid+Irr","Disk+Sph+Irr","Unclassifiable","Point Source"], "range": ["#19efca","#a0001e","#ff59ab","#118ff4","#e80035","#ffb3fb","#ff6b3b","#8a00cf","#ffc040","#129a7a","#000000","#0000ff"]}},
           "shape": {"field": "s", "type": "nominal", "title": null, "scale": {"domain": ["All Disks","All Spheroids","All Irregulars","Disk Only","Spheroid Only","Irregular Only","Disk+Spheroid","Disk+Irregular","Spheroid+Irr","Disk+Sph+Irr","Unclassifiable","Point Source"], "range": ["circle","M0,-1L1,1L-1,1Z","M0,-1L0.866,-0.5L0.866,0.5L0,1L-0.866,0.5L-0.866,-0.5Z","M-0.9,-0.9L0.9,-0.9L0.9,0.9L-0.9,0.9Z","M0,1L-1,-1L1,-1Z","M0,-1L0.866,-0.5L0.866,0.5L0,1L-0.866,0.5L-0.866,-0.5Z","M0,-1.25L1.25,0L0,1.25L-1.25,0Z","M0,-1L0.951,-0.309L0.588,0.809L-0.588,0.809L-0.951,-0.309Z","M-1,0L1,-1L1,1Z","M1,0L-1,-1L-1,1Z","M-0.36,-1L0.36,-1L0.36,-0.36L1,-0.36L1,0.36L0.36,0.36L0.36,1L-0.36,1L-0.36,0.36L-1,0.36L-1,-0.36L-0.36,-0.36Z","circle"]}}
         }},
        {"mark": {"type": "errorbar", "thickness": 2.6, "clip": true},
         "encoding": {
           "x": {"field": "z", "type": "quantitative", "scale": {"domain": [3, 8], "nice": false, "zero": false}, "axis": null},
           "y": {"field": "f", "type": "quantitative", "scale": {"domain": [0, 0.8], "nice": false, "zero": false}, "axis": null},
           "yError": {"field": "e"},
           "color": {"field": "s", "type": "nominal", "title": null, "scale": {"domain": ["All Disks","All Spheroids","All Irregulars","Disk Only","Spheroid Only","Irregular Only","Disk+Spheroid","Disk+Irregular","Spheroid+Irr","Disk+Sph+Irr","Unclassifiable","Point Source"], "range": ["#19efca","#a0001e","#ff59ab","#118ff4","#e80035","#ffb3fb","#ff6b3b","#8a00cf","#ffc040","#129a7a","#000000","#0000ff"]}}
         }},
        {"mark": {"type": "line", "strokeWidth": 2.7, "clip": true},
         "encoding": {
           "x": {"field": "z", "type": "quantitative", "scale": {"domain": [3, 8], "nice": false, "zero": false}, "axis": {"orient": "bottom", "values": [3,4,5,6,7,8], "tickSize": -9, "labelPadding": 11, "titlePadding": 14, "labelExpr": "datum.value == 8 ? '' : datum.label", "title": "Redshift (z)"}},
           "y": {"field": "f", "type": "quantitative", "scale": {"domain": [0, 0.8], "nice": false, "zero": false}, "axis": {"orient": "left", "values": [0,0.2,0.4,0.6,0.8], "tickSize": -9, "labels": false, "title": null}},
           "color": {"field": "s", "type": "nominal", "title": null, "scale": {"domain": ["All Disks","All Spheroids","All Irregulars","Disk Only","Spheroid Only","Irregular Only","Disk+Spheroid","Disk+Irregular","Spheroid+Irr","Disk+Sph+Irr","Unclassifiable","Point Source"], "range": ["#19efca","#a0001e","#ff59ab","#118ff4","#e80035","#ffb3fb","#ff6b3b","#8a00cf","#ffc040","#129a7a","#000000","#0000ff"]}}
         }},
        {"mark": {"type": "point", "filled": true, "opacity": 1, "size": 180, "clip": true},
         "encoding": {
           "x": {"field": "z", "type": "quantitative", "scale": {"domain": [3, 8], "nice": false, "zero": false}, "axis": null},
           "y": {"field": "f", "type": "quantitative", "scale": {"domain": [0, 0.8], "nice": false, "zero": false}, "axis": null},
           "color": {"field": "s", "type": "nominal", "title": null, "scale": {"domain": ["All Disks","All Spheroids","All Irregulars","Disk Only","Spheroid Only","Irregular Only","Disk+Spheroid","Disk+Irregular","Spheroid+Irr","Disk+Sph+Irr","Unclassifiable","Point Source"], "range": ["#19efca","#a0001e","#ff59ab","#118ff4","#e80035","#ffb3fb","#ff6b3b","#8a00cf","#ffc040","#129a7a","#000000","#0000ff"]}},
           "shape": {"field": "s", "type": "nominal", "title": null, "scale": {"domain": ["All Disks","All Spheroids","All Irregulars","Disk Only","Spheroid Only","Irregular Only","Disk+Spheroid","Disk+Irregular","Spheroid+Irr","Disk+Sph+Irr","Unclassifiable","Point Source"], "range": ["circle","M0,-1L1,1L-1,1Z","M0,-1L0.866,-0.5L0.866,0.5L0,1L-0.866,0.5L-0.866,-0.5Z","M-0.9,-0.9L0.9,-0.9L0.9,0.9L-0.9,0.9Z","M0,1L-1,-1L1,-1Z","M0,-1L0.866,-0.5L0.866,0.5L0,1L-0.866,0.5L-0.866,-0.5Z","M0,-1.25L1.25,0L0,1.25L-1.25,0Z","M0,-1L0.951,-0.309L0.588,0.809L-0.588,0.809L-0.951,-0.309Z","M-1,0L1,-1L1,1Z","M1,0L-1,-1L-1,1Z","M-0.36,-1L0.36,-1L0.36,-0.36L1,-0.36L1,0.36L0.36,0.36L0.36,1L-0.36,1L-0.36,0.36L-1,0.36L-1,-0.36L-0.36,-0.36Z","circle"]}}
         }},
        {"mark": {"type": "point", "opacity": 0},
         "encoding": {
           "x": {"field": "z", "type": "quantitative", "scale": {"domain": [3, 8], "nice": false, "zero": false}, "axis": {"orient": "top", "values": [3,4,5,6,7,8], "tickSize": -9, "labels": false, "title": null}},
           "y": {"field": "f", "type": "quantitative", "scale": {"domain": [0, 0.8], "nice": false, "zero": false}, "axis": {"orient": "right", "values": [0,0.2,0.4,0.6,0.8], "tickSize": -9, "labels": false, "title": null}}
         }},
        {"mark": {"type": "point", "opacity": 0},
         "encoding": {
           "x": {"field": "z", "type": "quantitative", "scale": {"domain": [3, 8], "nice": false, "zero": false}, "axis": {"orient": "top", "values": [3.2,3.4,3.6,3.8,4.2,4.4,4.6,4.8,5.2,5.4,5.6,5.8,6.2,6.4,6.6,6.8,7.2,7.4,7.6,7.8], "tickSize": -4.5, "labels": false, "title": null}},
           "y": {"field": "f", "type": "quantitative", "scale": {"domain": [0, 0.8], "nice": false, "zero": false}, "axis": {"orient": "right", "values": [0.05,0.1,0.15,0.25,0.3,0.35,0.45,0.5,0.55,0.65,0.7,0.75], "tickSize": -4.5, "labels": false, "title": null}}
         }}
      ]
    },
    {
      "width": 319.5, "height": 229.5,
      "title": {"text": "\"Mixed\" Groups", "dx": 77, "offset": -49},
      "data": {"name": "d"},
      "transform": [{"filter": {"field": "s", "oneOf": ["Disk+Spheroid", "Disk+Irregular", "Spheroid+Irr", "Disk+Sph+Irr"]}}],
      "resolve": {"axis": {"x": "independent", "y": "independent"}},
      "layer": [
        {"mark": {"type": "point", "filled": true, "opacity": 1, "size": 180, "clip": true},
         "encoding": {
           "x": {"field": "z", "type": "quantitative", "scale": {"domain": [3, 8], "nice": false, "zero": false}, "axis": {"orient": "bottom", "values": [3.2,3.4,3.6,3.8,4.2,4.4,4.6,4.8,5.2,5.4,5.6,5.8,6.2,6.4,6.6,6.8,7.2,7.4,7.6,7.8], "tickSize": -4.5, "labels": false, "title": null}},
           "y": {"field": "f", "type": "quantitative", "scale": {"domain": [0, 0.8], "nice": false, "zero": false}, "axis": {"orient": "left", "values": [0.05,0.1,0.15,0.25,0.3,0.35,0.45,0.5,0.55,0.65,0.7,0.75], "tickSize": -4.5, "labels": false, "title": null}},
           "color": {"field": "s", "type": "nominal", "title": null, "scale": {"domain": ["All Disks","All Spheroids","All Irregulars","Disk Only","Spheroid Only","Irregular Only","Disk+Spheroid","Disk+Irregular","Spheroid+Irr","Disk+Sph+Irr","Unclassifiable","Point Source"], "range": ["#19efca","#a0001e","#ff59ab","#118ff4","#e80035","#ffb3fb","#ff6b3b","#8a00cf","#ffc040","#129a7a","#000000","#0000ff"]}},
           "shape": {"field": "s", "type": "nominal", "title": null, "scale": {"domain": ["All Disks","All Spheroids","All Irregulars","Disk Only","Spheroid Only","Irregular Only","Disk+Spheroid","Disk+Irregular","Spheroid+Irr","Disk+Sph+Irr","Unclassifiable","Point Source"], "range": ["circle","M0,-1L1,1L-1,1Z","M0,-1L0.866,-0.5L0.866,0.5L0,1L-0.866,0.5L-0.866,-0.5Z","M-0.9,-0.9L0.9,-0.9L0.9,0.9L-0.9,0.9Z","M0,1L-1,-1L1,-1Z","M0,-1L0.866,-0.5L0.866,0.5L0,1L-0.866,0.5L-0.866,-0.5Z","M0,-1.25L1.25,0L0,1.25L-1.25,0Z","M0,-1L0.951,-0.309L0.588,0.809L-0.588,0.809L-0.951,-0.309Z","M-1,0L1,-1L1,1Z","M1,0L-1,-1L-1,1Z","M-0.36,-1L0.36,-1L0.36,-0.36L1,-0.36L1,0.36L0.36,0.36L0.36,1L-0.36,1L-0.36,0.36L-1,0.36L-1,-0.36L-0.36,-0.36Z","circle"]}}
         }},
        {"mark": {"type": "errorbar", "thickness": 2.6, "clip": true},
         "encoding": {
           "x": {"field": "z", "type": "quantitative", "scale": {"domain": [3, 8], "nice": false, "zero": false}, "axis": null},
           "y": {"field": "f", "type": "quantitative", "scale": {"domain": [0, 0.8], "nice": false, "zero": false}, "axis": null},
           "yError": {"field": "e"},
           "color": {"field": "s", "type": "nominal", "title": null, "scale": {"domain": ["All Disks","All Spheroids","All Irregulars","Disk Only","Spheroid Only","Irregular Only","Disk+Spheroid","Disk+Irregular","Spheroid+Irr","Disk+Sph+Irr","Unclassifiable","Point Source"], "range": ["#19efca","#a0001e","#ff59ab","#118ff4","#e80035","#ffb3fb","#ff6b3b","#8a00cf","#ffc040","#129a7a","#000000","#0000ff"]}}
         }},
        {"mark": {"type": "line", "strokeWidth": 2.7, "clip": true},
         "encoding": {
           "x": {"field": "z", "type": "quantitative", "scale": {"domain": [3, 8], "nice": false, "zero": false}, "axis": {"orient": "bottom", "values": [3,4,5,6,7,8], "tickSize": -9, "labelPadding": 11, "titlePadding": 14, "title": "Redshift (z)"}},
           "y": {"field": "f", "type": "quantitative", "scale": {"domain": [0, 0.8], "nice": false, "zero": false}, "axis": {"orient": "left", "values": [0,0.2,0.4,0.6,0.8], "tickSize": -9, "labels": false, "title": null}},
           "color": {"field": "s", "type": "nominal", "title": null, "scale": {"domain": ["All Disks","All Spheroids","All Irregulars","Disk Only","Spheroid Only","Irregular Only","Disk+Spheroid","Disk+Irregular","Spheroid+Irr","Disk+Sph+Irr","Unclassifiable","Point Source"], "range": ["#19efca","#a0001e","#ff59ab","#118ff4","#e80035","#ffb3fb","#ff6b3b","#8a00cf","#ffc040","#129a7a","#000000","#0000ff"]}}
         }},
        {"mark": {"type": "point", "filled": true, "opacity": 1, "size": 180, "clip": true},
         "encoding": {
           "x": {"field": "z", "type": "quantitative", "scale": {"domain": [3, 8], "nice": false, "zero": false}, "axis": null},
           "y": {"field": "f", "type": "quantitative", "scale": {"domain": [0, 0.8], "nice": false, "zero": false}, "axis": null},
           "color": {"field": "s", "type": "nominal", "title": null, "scale": {"domain": ["All Disks","All Spheroids","All Irregulars","Disk Only","Spheroid Only","Irregular Only","Disk+Spheroid","Disk+Irregular","Spheroid+Irr","Disk+Sph+Irr","Unclassifiable","Point Source"], "range": ["#19efca","#a0001e","#ff59ab","#118ff4","#e80035","#ffb3fb","#ff6b3b","#8a00cf","#ffc040","#129a7a","#000000","#0000ff"]}},
           "shape": {"field": "s", "type": "nominal", "title": null, "scale": {"domain": ["All Disks","All Spheroids","All Irregulars","Disk Only","Spheroid Only","Irregular Only","Disk+Spheroid","Disk+Irregular","Spheroid+Irr","Disk+Sph+Irr","Unclassifiable","Point Source"], "range": ["circle","M0,-1L1,1L-1,1Z","M0,-1L0.866,-0.5L0.866,0.5L0,1L-0.866,0.5L-0.866,-0.5Z","M-0.9,-0.9L0.9,-0.9L0.9,0.9L-0.9,0.9Z","M0,1L-1,-1L1,-1Z","M0,-1L0.866,-0.5L0.866,0.5L0,1L-0.866,0.5L-0.866,-0.5Z","M0,-1.25L1.25,0L0,1.25L-1.25,0Z","M0,-1L0.951,-0.309L0.588,0.809L-0.588,0.809L-0.951,-0.309Z","M-1,0L1,-1L1,1Z","M1,0L-1,-1L-1,1Z","M-0.36,-1L0.36,-1L0.36,-0.36L1,-0.36L1,0.36L0.36,0.36L0.36,1L-0.36,1L-0.36,0.36L-1,0.36L-1,-0.36L-0.36,-0.36Z","circle"]}}
         }},
        {"mark": {"type": "point", "opacity": 0},
         "encoding": {
           "x": {"field": "z", "type": "quantitative", "scale": {"domain": [3, 8], "nice": false, "zero": false}, "axis": {"orient": "top", "values": [3,4,5,6,7,8], "tickSize": -9, "labels": false, "title": null}},
           "y": {"field": "f", "type": "quantitative", "scale": {"domain": [0, 0.8], "nice": false, "zero": false}, "axis": {"orient": "right", "values": [0,0.2,0.4,0.6,0.8], "tickSize": -9, "labels": false, "title": null}}
         }},
        {"mark": {"type": "point", "opacity": 0},
         "encoding": {
           "x": {"field": "z", "type": "quantitative", "scale": {"domain": [3, 8], "nice": false, "zero": false}, "axis": {"orient": "top", "values": [3.2,3.4,3.6,3.8,4.2,4.4,4.6,4.8,5.2,5.4,5.6,5.8,6.2,6.4,6.6,6.8,7.2,7.4,7.6,7.8], "tickSize": -4.5, "labels": false, "title": null}},
           "y": {"field": "f", "type": "quantitative", "scale": {"domain": [0, 0.8], "nice": false, "zero": false}, "axis": {"orient": "right", "values": [0.05,0.1,0.15,0.25,0.3,0.35,0.45,0.5,0.55,0.65,0.7,0.75], "tickSize": -4.5, "labels": false, "title": null}}
         }}
      ]
    },
    {
      "width": 319.5, "height": 229.5,
      "data": {"name": "d"},
      "mark": {"type": "point", "opacity": 0},
      "encoding": {
        "x": {"field": "z", "type": "quantitative", "scale": {"domain": [3, 8], "nice": false, "zero": false}, "axis": null},
        "y": {"field": "f", "type": "quantitative", "scale": {"domain": [0, 0.8], "nice": false, "zero": false}, "axis": null}
      }
    }
  ],
  "columns": 4,
  "spacing": 0,
  "bounds": "flush",
  "config": {
    "font": "DejaVu Sans",
    "view": {"stroke": "black", "strokeWidth": 1.8},
    "axis": {
      "domain": false, "grid": false,
      "tickColor": "black", "tickWidth": 1.6,
      "labelFont": "DejaVu Sans", "labelFontSize": 20, "labelColor": "black",
      "labelPadding": 18, "labelOverlap": false, "labelFlush": false, "labelBound": false,
      "titleFont": "DejaVu Sans", "titleFontSize": 20.8, "titleFontWeight": "normal", "titleColor": "black", "titlePadding": 9
    },
    "axisY": {"labelOffset": 2.5},
    "title": {"font": "DejaVu Sans", "fontSize": 20.8, "fontWeight": "normal", "color": "black", "frame": "group", "anchor": "start", "baseline": "alphabetic"},
    "legend": {
      "orient": "none", "legendX": 963, "legendY": 239, "columns": 2,
      "labelFont": "DejaVu Sans", "labelFontSize": 14.2, "labelColor": "black",
      "symbolSize": 200, "symbolStrokeWidth": 0,
      "strokeColor": "#cccccc", "fillColor": "white", "cornerRadius": 4,
      "padding": 4, "rowPadding": 1.3, "columnPadding": 0, "labelOffset": 19, "symbolOffset": 12, "symbolLimit": 0
    }
  }
}
